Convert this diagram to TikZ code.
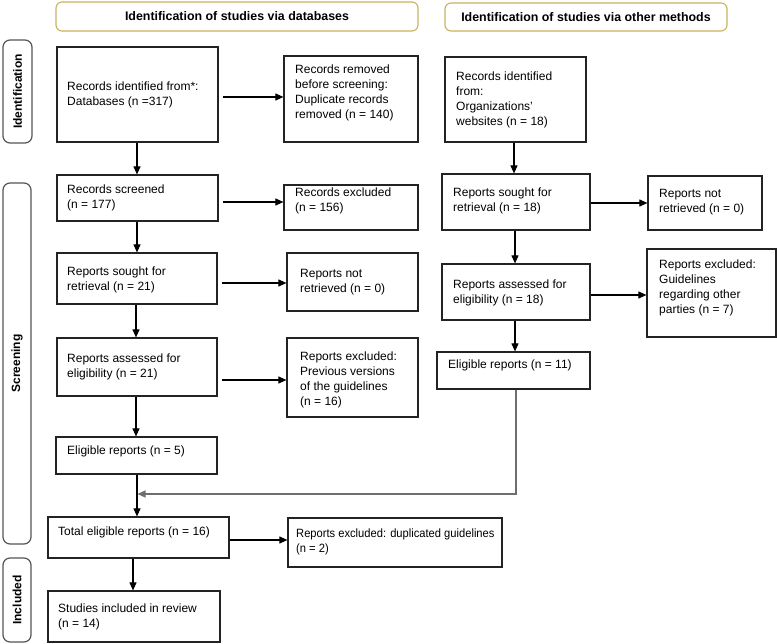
\documentclass[tikz,border=0pt]{standalone}
\usepackage{fontspec}
\setmainfont{Liberation Sans}
\newfontfamily\narrowf[FakeStretch=0.93]{Liberation Sans}
\usetikzlibrary{arrows.meta}
\definecolor{hdr}{RGB}{200,178,90}
\definecolor{sidec}{RGB}{85,85,85}
\definecolor{boxc}{RGB}{35,35,35}
\definecolor{joinc}{RGB}{110,110,110}
\newcommand\tx[1]{\begin{tabular}[t]{@{}l@{}}#1\end{tabular}}
\newcommand\mkbox[8]{%
  \node[bx, minimum width={(#4-#2)*1pt}, minimum height={(#5-#3)*1pt}] (#1) at ({(#2+#4)/2},{(#3+#5)/2}) {};
  \node[txt] (#1t) at (#6,#7) {\tx{#8}};}
\tikzset{
  bx/.style={draw=boxc, line width=1.2pt, inner sep=0pt, fill=white},
  txt/.style={anchor=base west, inner sep=0pt, font=\fontsize{12}{15}\selectfont},
  hdrbox/.style={draw=hdr, line width=1.1pt, rounded corners=6pt, inner sep=0pt, font=\bfseries\fontsize{12.4}{15}\selectfont},
  sidebox/.style={draw=sidec, line width=1.2pt, rounded corners=7pt, inner sep=0pt, font=\bfseries\fontsize{12}{15}\selectfont},
  arr/.style={draw=black, line width=1.1pt, -{Triangle[length=8pt,width=7pt]}},
}
\begin{document}
\begin{tikzpicture}[x=1pt,y=-1pt]
\useasboundingbox (0,0) rectangle (777,644);
% headers
\node[hdrbox, minimum width=362pt, minimum height=29pt] (h1) at (237,16.5) {Identification of studies via databases};
\node[hdrbox, minimum width=282pt, minimum height=28pt] (h2) at (586,17) {Identification of studies via other methods};
% side labels
\node[sidebox, rotate=90, minimum width=103pt, minimum height=29pt] (s1) at (17.5,91.5) {Identification};
\node[sidebox, rotate=90, minimum width=361pt, minimum height=28pt] (s2) at (17,363.5) {Screening};
\node[sidebox, rotate=90, minimum width=84pt, minimum height=28pt] (s3) at (17,600) {Included};
% left column
\mkbox{id1}{57}{47}{218}{142}{67}{91}{Records identified from*:\\Databases (n =317)}
\mkbox{rem}{284}{56}{418}{142}{295}{74}{Records removed\\before screening:\\Duplicate records\\removed (n = 140)}
\mkbox{scr}{57}{175}{218}{221}{67}{194}{Records screened\\(n = 177)}
\mkbox{exc}{284}{185}{418}{230}{295}{197}{Records excluded\\(n = 156)}
\mkbox{sou}{57}{253}{217}{304}{67}{276}{Reports sought for\\retrieval (n = 21)}
\mkbox{nr}{287}{253}{418}{311}{300}{278}{Reports not\\retrieved (n = 0)}
\mkbox{ass}{57}{338}{217}{396}{67}{363}{Reports assessed for\\eligibility (n = 21)}
\mkbox{exb}{287}{338}{418}{417}{300}{361}{Reports excluded:\\Previous versions\\of the guidelines\\(n = 16)}
\mkbox{elf}{56}{437}{217}{474}{67}{454}{Eligible reports (n = 5)}
\mkbox{tot}{48}{517}{229}{558}{58}{535}{Total eligible reports (n = 16)}
\mkbox{dup}{288}{518}{502}{567}{296}{537}{\narrowf Reports excluded: duplicated guidelines\\\narrowf (n = 2)}
\mkbox{inc}{48}{591}{220}{642}{58}{612}{Studies included in review\\(n = 14)}
% right column
\mkbox{org}{445}{57}{586}{142}{456}{81}{Records identified\\from:\\Organizations'\\websites (n = 18)}
\mkbox{soub}{442}{174}{590}{230}{453}{197}{Reports sought for\\retrieval (n = 18)}
\mkbox{nrb}{648}{176}{762}{230}{659}{198}{Reports not\\retrieved (n = 0)}
\mkbox{assb}{442}{264}{590}{320}{453}{289}{Reports assessed for\\eligibility (n = 18)}
\mkbox{exc3}{647}{249}{776}{337}{659}{269}{Reports excluded:\\Guidelines\\regarding other\\parties (n = 7)}
\mkbox{ele}{437}{352}{590}{389}{448}{369}{Eligible reports (n = 11)}
% helper coordinates
\coordinate (c137) at (137,0);
\coordinate (c136) at (136,0);
\coordinate (c133) at (133,0);
\coordinate (c514) at (514,0);
\coordinate (c515) at (515,0);
\coordinate (c516) at (516,0);
\coordinate (y97) at (0,97);
\coordinate (y202) at (0,202);
\coordinate (y283) at (0,283);
\coordinate (y380) at (0,380);
\coordinate (y540) at (0,540);
\coordinate (y203) at (0,203);
\coordinate (y295) at (0,295);
\coordinate (jn) at (137.5,494);
% vertical arrows left
\draw[arr] (id1.south -| c137) -- (scr.north -| c137);
\draw[arr] (scr.south -| c137) -- (sou.north -| c137);
\draw[arr] (sou.south -| c136) -- (ass.north -| c136);
\draw[arr] (ass.south -| c136) -- (elf.north -| c136);
\draw[arr] (elf.south -| c137) -- (tot.north -| c137);
\draw[arr] (tot.south -| c133) -- (inc.north -| c133);
% horizontal arrows left
\draw[arr, shorten <=4pt] (id1.east |- y97) -- (rem.west |- y97);
\draw[arr, shorten <=4pt] (scr.east |- y202) -- (exc.west |- y202);
\draw[arr, shorten <=4pt] (sou.east |- y283) -- (nr.west |- y283);
\draw[arr, shorten <=4pt] (ass.east |- y380) -- (exb.west |- y380);
\draw[arr] (tot.east |- y540) -- (dup.west |- y540);
% right column arrows
\draw[arr] (org.south -| c514) -- (soub.north -| c514);
\draw[arr] (soub.south -| c515) -- (assb.north -| c515);
\draw[arr] (assb.south -| c515) -- (ele.north -| c515);
\draw[arr] (soub.east |- y203) -- (nrb.west |- y203);
\draw[arr] (assb.east |- y295) -- (exc3.west |- y295);
% join line
\draw[arr, draw=joinc] (ele.south -| c516) |- (jn);
\end{tikzpicture}
\end{document}
